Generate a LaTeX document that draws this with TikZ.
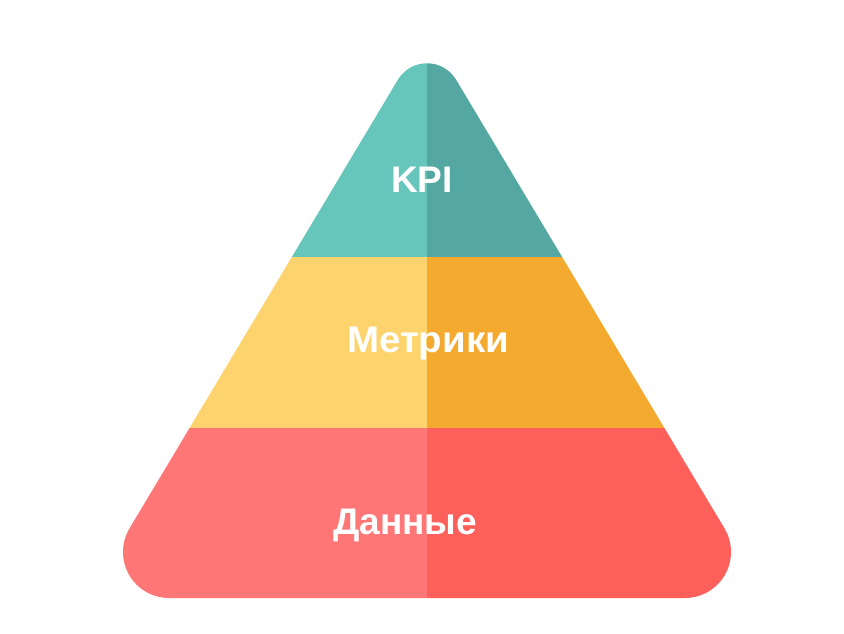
\documentclass[tikz,border=0pt]{standalone}
\usepackage{fontspec}
\setmainfont{Liberation Sans}
\definecolor{tealL}{RGB}{102,198,187}
\definecolor{tealR}{RGB}{84,168,161}
\definecolor{yelL}{RGB}{252,211,108}
\definecolor{yelR}{RGB}{244,170,46}
\definecolor{redL}{RGB}{254,118,118}
\definecolor{redR}{RGB}{253,96,90}
\tikzset{lbl/.style={text=white,font=\fontsize{37}{42}\selectfont\bfseries,inner sep=0pt}}
\begin{document}
\begin{tikzpicture}[x=1pt,y=1pt]
\useasboundingbox (0,0) rectangle (844,633);
\begin{scope}
\clip ([shift={(427,535.7)}]149.1:34) arc[start angle=149.1,end angle=30.9,radius=34]
  -- ([shift={(685,81)}]30.9:46) arc[start angle=30.9,end angle=-90,radius=46]
  -- ([shift={(169,81)}]-90:46) arc[start angle=-90,end angle=-210.9,radius=46]
  -- cycle;
\fill[tealL] (80,376) rectangle (427,610);
\fill[tealR] (427,376) rectangle (780,610);
\fill[yelL] (80,205) rectangle (427,376);
\fill[yelR] (427,205) rectangle (780,376);
\fill[redL] (80,20) rectangle (427,205);
\fill[redR] (427,20) rectangle (780,205);
\end{scope}
\node[lbl] (kpi) at (422,453) {KPI};
\node[lbl,xscale=1.04] (met) at (428,289) {Метрики};
\node[lbl] (dan) at (405,108) {Данные};
\end{tikzpicture}
\end{document}
